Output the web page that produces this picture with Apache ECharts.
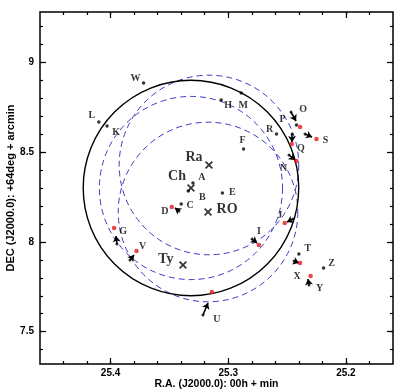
<!DOCTYPE html>
<html><head><meta charset="utf-8">
<script src="https://cdn.jsdelivr.net/npm/echarts@6/dist/echarts.min.js"></script>
<style>html,body{margin:0;padding:0;background:#fff}#c{width:400px;height:392px}</style>
</head><body><div id="c"></div>
<script>
// ---------- axis ticks ----------
const raMajorTicks = [25.2, 25.3, 25.4];
const raMinorTicks = [25.18, 25.20, 25.22, 25.24, 25.26, 25.28, 25.30, 25.32, 25.34, 25.36, 25.38, 25.40, 25.42, 25.44];
const decMajorTicks = [7.5, 8, 8.5, 9];
const decMinorTicks = [7.4, 7.5, 7.6, 7.7, 7.8, 7.9, 8.0, 8.1, 8.2, 8.3, 8.4, 8.5, 8.6, 8.7, 8.8, 8.9, 9.0, 9.1, 9.2];

// ---------- stars (present positions, black dots) ----------
const starNames = ['A', 'B', 'C', 'E', 'F', 'H', 'K', 'L', 'M', 'P', 'R', 'T', 'W', 'Z'];
const starRA  = [25.330, 25.334, 25.340, 25.305, 25.287, 25.306, 25.403, 25.410, 25.289, 25.242, 25.259, 25.240, 25.372, 25.219];
const starDec = [8.328, 8.283, 8.211, 8.272, 8.517, 8.790, 8.645, 8.668, 8.829, 8.651, 8.601, 7.933, 8.885, 7.855];

// ---------- stars with proper motion: red dots ----------
const movNames = ['O', 'S', 'Q', 'N', 'D', 'G', 'V', 'I', 'J', 'X', 'Y', 'U'];
const movRA  = [25.239, 25.225, 25.246, 25.242, 25.348, 25.397, 25.378, 25.274, 25.252, 25.239, 25.230, 25.314];
const movDec = [8.640, 8.573, 8.545, 8.450, 8.194, 8.077, 7.949, 7.983, 8.105, 7.882, 7.810, 7.721];
// proper-motion arrows (tail -> head)
const arrowTailRA  = [25.2467, 25.2348, 25.2458, 25.2484, 25.3419, 25.3946, 25.3835, 25.2798, 25.2450, 25.2441, 25.2314, 25.3215];
const arrowTailDec = [8.7232, 8.6007, 8.6007, 8.4838, 8.1719, 7.9882, 7.8991, 8.0160, 8.1274, 7.8935, 7.7599, 7.5928];
const arrowHeadRA  = [25.2424, 25.2288, 25.2458, 25.2433, 25.3453, 25.3954, 25.3801, 25.2756, 25.2501, 25.2399, 25.2322, 25.3172];
const arrowHeadDec = [8.6731, 8.5840, 8.5561, 8.4559, 8.1886, 8.0327, 7.9269, 7.9937, 8.1107, 7.8824, 7.7933, 7.6597];

// ---------- proposed remnant centres ----------
const centreNames = ['Ra', 'Ch', 'RO', 'Ty'];
const centreRA  = [25.3164, 25.3317, 25.3172, 25.3385];
const centreDec = [8.4281, 8.3000, 8.1664, 7.8713];

// ---------- search circles (radius in arcmin) ----------
const solidCircleCentre = ['Ch'];
const solidCircleRadius = [0.60];
const dashedCircleCentre = ['Ra', 'Ch', 'RO'];
const dashedCircleRadius = [0.50, 0.51, 0.50];

// ---------- styling (label offsets in px) ----------
const labelOffset = {
  A:[9,-6], B:[14,6], C:[9,1], E:[10,-1], F:[-1,-9], H:[7,5], K:[9,6], L:[-7,-6], M:[2,12],
  P:[-14,-6], R:[-7,-5], T:[9,-5], W:[-8,-5], Z:[8,-4],
  O:[3,-18], S:[9,1], Q:[9,4], N:[-13,7], D:[-7,4], G:[9,3], V:[6,-5], I:[0,-14], J:[-5,-8],
  X:[-3,13], Y:[9,12], U:[5,27]
};
const centreLabelOffset = { Ra:[-15,-8], Ch:[-14,-12], RO:[19,-3], Ty:[-17,-6] };

function centreOf(name){ const i = centreNames.indexOf(name); return [centreRA[i], centreDec[i]]; }

function circleRenderer(style){
  return function(params, api){
    const c = api.coord([api.value(0), api.value(1)]);
    const r = Math.abs(api.size([0, api.value(2)])[1]);
    return { type:'circle', silent:true, shape:{cx:c[0], cy:c[1], r:r}, style:Object.assign({fill:'none'}, style) };
  };
}

const labelFont = { fontFamily:'Liberation Serif', fontWeight:'bold', fontSize:10, color:'#000' };
const bigFont = { fontFamily:'Liberation Serif', fontWeight:'bold', fontSize:14, color:'#000' };
const axisFont = { fontFamily:'Liberation Sans', fontWeight:'bold', fontSize:10, color:'#000' };

const labelData = [];
starNames.forEach((n,i)=>labelData.push({name:n, value:[starRA[i], starDec[i]], label:{offset:labelOffset[n]}}));
movNames.forEach((n,i)=>labelData.push({name:n, value:[movRA[i], movDec[i]], label:{offset:labelOffset[n]}}));

function xAx(pos, ticks, len, labels){
  return { type:'value', position:pos, min:25.16, max:25.46, inverse:true,
    axisLine:{show:false}, splitLine:{show:false},
    axisTick:{show:true, inside:true, length:len, customValues:ticks, lineStyle:{color:'#000', width:1.2}},
    axisLabel: labels ? Object.assign({customValues:ticks, margin:4, formatter:v=>v.toFixed(1)}, axisFont) : {show:false},
    name: labels ? 'R.A. (J2000.0): 00h + min' : '', nameLocation:'middle', nameGap:15, nameMoveOverlap:false,
    nameTextStyle: Object.assign({}, axisFont, {fontSize:10.5}) };
}
function yAx(pos, ticks, len, labels){
  return { type:'value', position:pos, min:7.32, max:9.28,
    axisLine:{show:false}, splitLine:{show:false},
    axisTick:{show:true, inside:true, length:len, customValues:ticks, lineStyle:{color:'#000', width:1.2}},
    axisLabel: labels ? Object.assign({customValues:ticks, margin:6, formatter:v=>String(v)}, axisFont) : {show:false},
    name: labels ? 'DEC (J2000.0): +64deg + arcmin' : '', nameLocation:'middle', nameGap:24, nameRotate:90, nameMoveOverlap:false,
    nameTextStyle: Object.assign({}, axisFont, {fontSize:11}) };
}

const chart = echarts.init(document.getElementById('c'), null, {renderer:'canvas'});
chart.setOption({
  animation:false,
  backgroundColor:'#fff',
  grid:{left:40, right:7, top:12, bottom:28, containLabel:false, outerBoundsMode:'none',
        show:true, borderColor:'#000', borderWidth:1.5, backgroundColor:'transparent'},
  xAxis:[ xAx('bottom', raMajorTicks, 6, true), xAx('bottom', raMinorTicks, 3, false),
          xAx('top', raMajorTicks, 6, false), xAx('top', raMinorTicks, 3, false) ],
  yAxis:[ yAx('left', decMajorTicks, 6, true), yAx('left', decMinorTicks, 3, false),
          yAx('right', decMajorTicks, 6, false), yAx('right', decMinorTicks, 3, false) ],
  series:[
    { type:'custom', name:'dashed', xAxisIndex:0, yAxisIndex:0, silent:true,
      renderItem: circleRenderer({stroke:'#3b3bc4', lineWidth:1, lineDash:[6,4]}),
      data: dashedCircleCentre.map((n,i)=>centreOf(n).concat([dashedCircleRadius[i]])) },
    { type:'custom', name:'solid', xAxisIndex:0, yAxisIndex:0, silent:true,
      renderItem: circleRenderer({stroke:'#000', lineWidth:1.4}),
      data: solidCircleCentre.map((n,i)=>centreOf(n).concat([solidCircleRadius[i]])) },
    { type:'lines', coordinateSystem:'cartesian2d', xAxisIndex:0, yAxisIndex:0, silent:true,
      symbol:['none','arrow'], symbolSize:[2,6],
      lineStyle:{color:'#000', width:1.6, opacity:1, curveness:0},
      data: arrowTailRA.map((v,i)=>({coords:[[v, arrowTailDec[i]], [arrowHeadRA[i], arrowHeadDec[i]]]})) },
    { type:'scatter', name:'stars', xAxisIndex:0, yAxisIndex:0, symbolSize:3.5, itemStyle:{color:'#000'},
      data: starRA.map((v,i)=>[v, starDec[i]]) },
    { type:'scatter', name:'tails', xAxisIndex:0, yAxisIndex:0, symbolSize:3, itemStyle:{color:'#000'},
      data: arrowTailRA.map((v,i)=>[v, arrowTailDec[i]]) },
    { type:'scatter', name:'red', xAxisIndex:0, yAxisIndex:0, symbolSize:4.5, itemStyle:{color:'#e8141c'},
      data: movRA.map((v,i)=>[v, movDec[i]]) },
    { type:'scatter', name:'centres', xAxisIndex:0, yAxisIndex:0, symbolSize:8,
      symbol:'path://M1.5,0 L5,3.5 L8.5,0 L10,1.5 L6.5,5 L10,8.5 L8.5,10 L5,6.5 L1.5,10 L0,8.5 L3.5,5 L0,1.5Z',
      itemStyle:{color:'#000'},
      label:{show:true, position:'inside', formatter:p=>p.name, ...bigFont},
      data: centreNames.map((n,i)=>({name:n, value:[centreRA[i], centreDec[i]], label:{offset:centreLabelOffset[n]}})) },
    { type:'scatter', name:'labels', xAxisIndex:0, yAxisIndex:0, symbolSize:0.1, itemStyle:{color:'transparent'},
      label:{show:true, position:'inside', formatter:p=>p.name, ...labelFont},
      data: labelData }
  ]
});
</script>
</body></html>
